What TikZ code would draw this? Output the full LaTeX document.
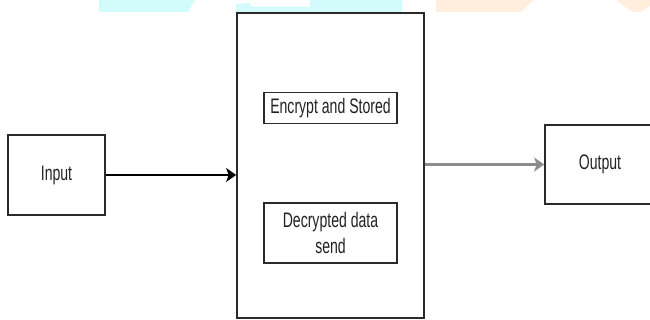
\documentclass[tikz,border=0pt]{standalone}
\usepackage{fontspec}
\setmainfont{Liberation Sans}[FakeStretch=0.67]
\usetikzlibrary{arrows.meta}
\definecolor{wmcyan}{HTML}{D2FCFC}
\definecolor{wmpeach}{HTML}{FFEEDC}
\definecolor{boxline}{HTML}{2A2A2A}
\definecolor{txt}{HTML}{222222}
\tikzset{
  box/.style={draw=boxline, line width=1.7pt, fill=white, inner sep=2pt, align=center,
    font=\fontsize{21}{26}\selectfont, text=txt},
  flow/.style={line width=1.8pt, -{Stealth[length=10pt,width=14pt,inset=2.5pt]}},
}
\begin{document}
\begin{tikzpicture}[x=1pt,y=-1pt]
\useasboundingbox (0,0) rectangle (650,320);
\clip (0,0) rectangle (650,320);
% watermark fragments
\fill[wmcyan] (99,0) -- (195,0) -- (188,12) -- (99,12) -- cycle;
\fill[wmcyan] (236,4) -- (250,3) -- (252,7) -- (310,7) -- (310,0) -- (402,0) -- (402,12) -- (236,12) -- cycle;
\fill[wmpeach] (436,0) -- (508,0) -- (520,12) -- (436,12) -- cycle;
\fill[wmpeach] (493,0) -- (533,0) -- (521,12) -- cycle;
\fill[wmpeach] (616,0) -- (650,0) -- (650,6) -- (640,12) -- (632,12) -- cycle;
% nodes
\node[box, minimum width=97pt, minimum height=80pt] (in) at (56.5,175) {Input};
\node[box, minimum width=187pt, minimum height=305pt] (big) at (330.5,165.5) {};
\node[box, minimum width=133pt, minimum height=31pt] (enc) at (330.5,108) {Encrypt and Stored};
\node[box, minimum width=133pt, minimum height=60pt] (dec) at (330.5,233) {Decrypted data\\send};
\node[box, minimum width=110pt, minimum height=79pt] (out) at (600,164.5) {Output};
% connectors
\draw[flow, draw=black, fill=black] (in.east) -- (in.east -| big.west);
\draw[flow, draw=gray!90, line width=2.6pt] (big.east |- out.west) -- (out.west);
\end{tikzpicture}
\end{document}
